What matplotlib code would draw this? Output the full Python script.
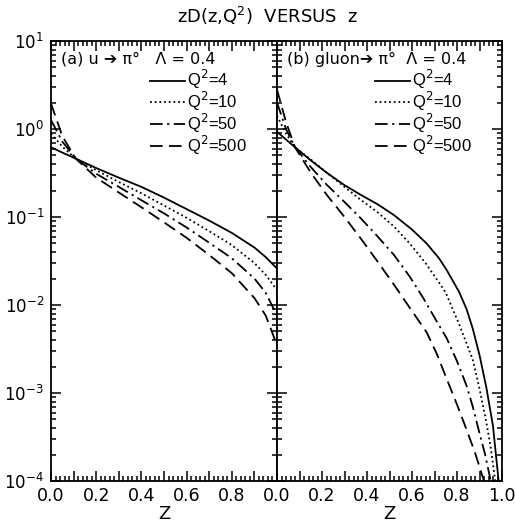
import matplotlib
matplotlib.use("Agg")
import matplotlib.pyplot as plt
from matplotlib.ticker import MultipleLocator, FuncFormatter, LogLocator
import numpy as np

plt.rcParams['font.family'] = ['DejaVu Sans']
plt.rcParams['mathtext.fontset'] = 'dejavusans'

# ---------------- data ----------------
q2_labels = ["Q$^2$=4", "Q$^2$=10", "Q$^2$=50", "Q$^2$=500"]

# panel (a): u -> pi0
z_a = [0.0, 0.05, 0.11, 0.2, 0.3, 0.4, 0.5, 0.6, 0.7, 0.8, 0.9, 0.95, 1.0]
a_q4 = [0.62, 0.54, 0.46, 0.36, 0.28, 0.22, 0.166, 0.123, 0.091, 0.066, 0.045, 0.035, 0.026]
a_q10 = [0.89, 0.63, 0.46, 0.34, 0.25, 0.186, 0.135, 0.098, 0.069, 0.048, 0.030, 0.022, 0.0148]
a_q50 = [1.26, 0.72, 0.46, 0.31, 0.22, 0.155, 0.110, 0.076, 0.051, 0.034, 0.020, 0.0138, 0.0076]
a_q500 = [1.95, 0.83, 0.46, 0.28, 0.19, 0.129, 0.087, 0.058, 0.037, 0.023, 0.012, 0.0076, 0.0035]

# panel (b): gluon -> pi0
z_b4 = [0, 0.08, 0.15, 0.22, 0.3, 0.37, 0.45, 0.52, 0.6, 0.665, 0.72, 0.754, 0.81, 0.843, 0.87, 0.9, 0.93, 0.96, 0.985]
b_q4 = [0.93, 0.62, 0.44, 0.32, 0.23, 0.18, 0.138, 0.105, 0.072, 0.050, 0.034, 0.025, 0.014, 0.0089, 0.0054, 0.0027, 0.00117, 0.00042, 0.0001]
z_b10 = [0, 0.04, 0.08, 0.15, 0.22, 0.3, 0.37, 0.44, 0.52, 0.59, 0.66, 0.72, 0.75, 0.81, 0.87, 0.90, 0.93, 0.95, 0.97]
b_q10 = [1.41, 0.89, 0.62, 0.45, 0.32, 0.22, 0.158, 0.117, 0.078, 0.050, 0.030, 0.018, 0.0138, 0.006, 0.0024, 0.00112, 0.00047, 0.00024, 0.0001]
z_b50 = [0, 0.04, 0.08, 0.15, 0.22, 0.3, 0.37, 0.44, 0.52, 0.59, 0.65, 0.70, 0.754, 0.80, 0.843, 0.87, 0.90, 0.925, 0.95]
b_q50 = [2.0, 1.0, 0.62, 0.37, 0.234, 0.148, 0.098, 0.063, 0.037, 0.021, 0.012, 0.0072, 0.0042, 0.0023, 0.0012, 0.0007, 0.00035, 0.0002, 0.0001]
z_b500 = [0, 0.04, 0.08, 0.15, 0.22, 0.3, 0.37, 0.44, 0.52, 0.59, 0.665, 0.71, 0.754, 0.80, 0.843, 0.88, 0.92]
b_q500 = [2.8, 1.2, 0.62, 0.32, 0.18, 0.1, 0.058, 0.033, 0.017, 0.0093, 0.0049, 0.0028, 0.00145, 0.00074, 0.00038, 0.00021, 0.0001]

x_ticklabels_a = ["0.0", "0.2", "0.4", "0.6", "0.8", ""]
x_ticklabels_b = ["0.0", "0.2", "0.4", "0.6", "0.8", "1.0"]

# ---------------- styles ----------------
styles = [
    dict(linestyle='-'),
    dict(linestyle=(0, (1, 1.6))),
    dict(linestyle=(0, (7, 2.5, 1.2, 2.5))),
    dict(linestyle=(0, (7, 3.5))),
]

fig = plt.figure(figsize=(5.15, 5.29), dpi=100)
W, H = 515, 529
ax_a = fig.add_axes([51 / W, 1 - 481 / H, 226 / W, 440 / H])
ax_b = fig.add_axes([277 / W, 1 - 481 / H, 225 / W, 440 / H], sharey=ax_a)

panels = [
    (ax_a, [(z_a, a_q4), (z_a, a_q10), (z_a, a_q50), (z_a, a_q500)], x_ticklabels_a,
     "(a) u \u2794 \u03c0\u00b0   \u039b = 0.4"),
    (ax_b, [(z_b4, b_q4), (z_b10, b_q10), (z_b50, b_q50), (z_b500, b_q500)], x_ticklabels_b,
     "(b) gluon\u2794 \u03c0\u00b0  \u039b = 0.4"),
]

for ax, series, xtl, header in panels:
    for (zz, yy), st, lab in zip(series, styles, q2_labels):
        ax.plot(zz, yy, color='black', lw=1.3, label=lab, **st)
    ax.set_yscale('log')
    ax.set_ylim(1e-4, 1e1)
    ax.set_xlim(0, 1)
    ax.xaxis.set_major_locator(MultipleLocator(0.1))
    ax.xaxis.set_minor_locator(MultipleLocator(0.02))
    labs = {round(0.2 * i, 1): t for i, t in enumerate(xtl)}
    ax.xaxis.set_major_formatter(FuncFormatter(lambda v, p, labs=labs: labs.get(round(v, 1), "")))
    ax.yaxis.set_major_locator(LogLocator(base=10, numticks=10))
    ax.yaxis.set_minor_locator(LogLocator(base=10, subs=np.arange(2, 10), numticks=20))
    ax.tick_params(which='both', direction='in', top=True, right=True, width=1.1)
    ax.tick_params(axis='x', labelsize=12.5)
    ax.tick_params(axis='y', labelsize=12)
    ax.tick_params(which='major', length=7)
    ax.tick_params(axis='x', which='major', pad=4)
    ax.tick_params(axis='y', which='major', pad=5)
    ax.tick_params(which='minor', length=3.5)
    for s in ax.spines.values():
        s.set_linewidth(1.3)
    ax.set_xlabel("Z", fontsize=13, labelpad=0)
    ax.text(0.045, 0.958, header, transform=ax.transAxes, fontsize=11.5,
            ha='left', va='center')
    ax.legend(loc='upper right', bbox_to_anchor=(0.865, 0.938), frameon=False,
              prop={'family': ['Liberation Sans', 'DejaVu Sans'], 'size': 12},
              handlelength=2.1, handletextpad=0.1,
              labelspacing=-0.08, borderpad=0, borderaxespad=0)

ax_b.tick_params(axis='y', which='both', labelleft=False)

fig.text(0.52, 1 - 16 / H, "zD(z,Q$^2$)  VERSUS  z", ha='center', va='center', fontsize=13)

fig.savefig("out.png", dpi=100)
